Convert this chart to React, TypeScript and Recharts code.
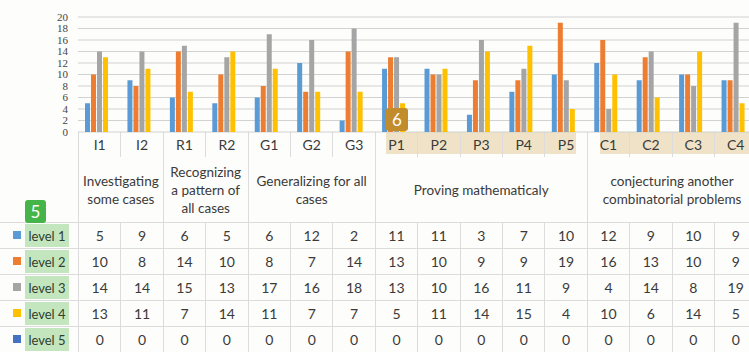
import React from 'react';
import { BarChart, Bar, XAxis, YAxis, CartesianGrid } from 'recharts';

// Indicator codes along the x axis
const categories = ['I1', 'I2', 'R1', 'R2', 'G1', 'G2', 'G3', 'P1', 'P2', 'P3', 'P4', 'P5', 'C1', 'C2', 'C3', 'C4'];

// Number of students per level for each indicator
const level1 = [5, 9, 6, 5, 6, 12, 2, 11, 11, 3, 7, 10, 12, 9, 10, 9];
const level2 = [10, 8, 14, 10, 8, 7, 14, 13, 10, 9, 9, 19, 16, 13, 10, 9];
const level3 = [14, 14, 15, 13, 17, 16, 18, 13, 10, 16, 11, 9, 4, 14, 8, 19];
const level4 = [13, 11, 7, 14, 11, 7, 7, 5, 11, 14, 15, 4, 10, 6, 14, 5];
const level5 = [0, 0, 0, 0, 0, 0, 0, 0, 0, 0, 0, 0, 0, 0, 0, 0];

const seriesNames = ['level 1', 'level 2', 'level 3', 'level 4', 'level 5'];
const seriesValues = [level1, level2, level3, level4, level5];
const seriesColors = ['#5b9bd5', '#ed7d31', '#a5a5a5', '#ffc000', '#4472c4'];

// Stage headings, each covering a run of indicators
const groupLabels = [
  'Investigating\nsome cases',
  'Recognizing\na pattern of\nall cases',
  'Generalizing for all\ncases',
  'Proving mathematicaly',
  'conjecturing another\ncombinatorial problems',
];
const groupSizes = [2, 2, 3, 5, 4];

const yTicks = [0, 2, 4, 6, 8, 10, 12, 14, 16, 18, 20];

const chartData = categories.map((cat, i) => {
  const row: Record<string, string | number> = { cat };
  seriesNames.forEach((name, s) => {
    row[name] = seriesValues[s][i];
  });
  return row;
});

const COL0 = 78;
const COLW = 42.4;
const LINE = '1px solid #dcdcdc';
const TEXT = '#3a3a3a';
const tableFont = 'Lato, "Open Sans", sans-serif';

const colX = (i: number) => COL0 + i * COLW;

export default function App() {
  const groupStarts = groupSizes.map((_, g) => groupSizes.slice(0, g).reduce((a, b) => a + b, 0));

  return (
    <div
      style={{
        position: 'fixed',
        left: 0,
        top: 0,
        width: 749,
        height: 352,
        overflow: 'hidden',
        background: '#fdfdfb',
        fontFamily: tableFont,
        color: TEXT,
      }}
    >
      {/* highlighted header cells for the P and C indicators */}
      <div style={{ position: 'absolute', left: 386, top: 132, width: 190, height: 22, background: '#efe2c6' }} />
      <div style={{ position: 'absolute', left: 600, top: 132, width: 160, height: 22, background: '#efe2c6' }} />

      {/* indicator header row */}
      {categories.map((cat, i) => (
        <div
          key={cat}
          style={{
            position: 'absolute',
            left: colX(i),
            top: 132,
            width: COLW,
            height: 25,
            borderLeft: LINE,
            boxSizing: 'border-box',
            display: 'flex',
            alignItems: 'center',
            justifyContent: 'center',
            fontSize: 14,
          }}
        >
          {cat}
        </div>
      ))}

      {/* stage headings */}
      {groupLabels.map((label, g) => (
        <div
          key={label}
          style={{
            position: 'absolute',
            left: colX(groupStarts[g]),
            top: 157,
            width: groupSizes[g] * COLW,
            height: 65,
            borderLeft: LINE,
            boxSizing: 'border-box',
            display: 'flex',
            alignItems: 'center',
            justifyContent: 'center',
            textAlign: 'center',
            whiteSpace: 'pre-line',
            fontSize: 13.5,
            lineHeight: '18px',
          }}
        >
          {label}
        </div>
      ))}

      {/* data table */}
      {seriesNames.map((name, s) => (
        <React.Fragment key={name}>
          <div
            style={{
              position: 'absolute',
              left: 0,
              top: 222 + s * 26,
              width: 760,
              height: 26,
              borderTop: LINE,
              boxSizing: 'border-box',
            }}
          />
          <div
            style={{
              position: 'absolute',
              left: 13,
              top: 222 + s * 26 + 9,
              width: 8,
              height: 8,
              background: seriesColors[s],
            }}
          />
          <div
            style={{
              position: 'absolute',
              left: 25,
              top: 222 + s * 26 + 2,
              width: 44,
              height: 23,
              background: '#c4e6bf',
              display: 'flex',
              alignItems: 'center',
              justifyContent: 'center',
              fontSize: 13,
              color: '#2f3f2f',
              whiteSpace: 'nowrap',
            }}
          >
            {name}
          </div>
          {seriesValues[s].map((v, i) => (
            <div
              key={i}
              style={{
                position: 'absolute',
                left: colX(i),
                top: 222 + s * 26,
                width: COLW,
                height: 26,
                borderLeft: LINE,
                boxSizing: 'border-box',
                display: 'flex',
                alignItems: 'center',
                justifyContent: 'center',
                fontSize: 14,
              }}
            >
              {v}
            </div>
          ))}
        </React.Fragment>
      ))}

      <div style={{ position: 'absolute', left: 0, top: 0 }}>
        <BarChart
          width={757}
          height={142}
          data={chartData}
          margin={{ top: 17, right: 0, left: 0, bottom: 10 }}
          barSize={5}
          barGap={1}
        >
          <CartesianGrid vertical={false} stroke="#d2d2d2" strokeWidth={1.2} />
          <XAxis dataKey="cat" hide />
          <YAxis
            domain={[0, 20]}
            ticks={yTicks}
            interval={0}
            width={78}
            axisLine={false}
            tickLine={false}
            tickSize={0}
            tickMargin={10}
            tick={{ fill: '#444', fontSize: 11, fontFamily: '"Liberation Serif", serif' }}
          />
          {seriesNames.map((name, s) => (
            <Bar key={name} dataKey={name} fill={seriesColors[s]} isAnimationActive={false} />
          ))}
        </BarChart>
      </div>

      {/* numbered markers */}
      <div
        style={{
          position: 'absolute',
          left: 25,
          top: 200,
          width: 21,
          height: 23,
          background: '#45b449',
          borderRadius: 3,
          color: '#fff',
          fontSize: 17,
          display: 'flex',
          alignItems: 'center',
          justifyContent: 'center',
        }}
      >
        5
      </div>
      <div
        style={{
          position: 'absolute',
          left: 386,
          top: 108,
          width: 22,
          height: 23,
          background: '#c28b2c',
          borderRadius: 3,
          color: '#fff',
          fontSize: 17,
          display: 'flex',
          alignItems: 'center',
          justifyContent: 'center',
        }}
      >
        6
      </div>
    </div>
  );
}
